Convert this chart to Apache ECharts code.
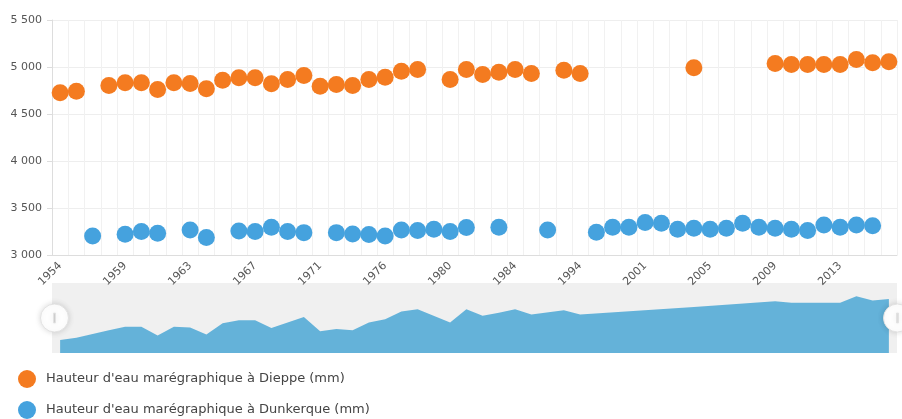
<!DOCTYPE html>
<html>
<head>
<meta charset="utf-8">
<script src="https://cdn.jsdelivr.net/npm/echarts@6/dist/echarts.min.js"></script>
<style>
html,body{margin:0;padding:0;background:#fff;}
#chart{width:902px;height:419px;}
</style>
</head>
<body>
<div id="chart"></div>
<script>
var years = ['1954','1955','1956','1957','1959','1960','1961','1962','1963','1964','1965','1966','1967','1968','1969','1970','1971','1972','1973','1974','1976','1977','1978','1979','1980','1981','1982','1983','1984','1985','1990','1993','1994','1998','1999','2000','2001','2002','2003','2004','2005','2006','2007','2008','2009','2010','2011','2012','2013','2014','2015','2016'];
var dieppe = [4725,4742,null,4803,4832,4832,4760,4832,4825,4768,4860,4885,4885,4821,4867,4910,4796,4814,4803,4867,4892,4956,4974,null,4867,4974,4920,4945,4974,4931,null,4966,4931,null,null,null,null,null,null,4992,null,null,null,null,5038,5027,5027,5027,5027,5080,5045,5056];
var dunkerque = [null,null,3203,null,3221,3249,3231,null,3267,3185,null,3256,3249,3295,3249,3238,null,3238,3224,3217,3203,3267,3260,3274,3249,3292,null,3295,null,null,3267,null,null,3242,3295,3295,3345,3338,3274,3285,3274,3285,3338,3295,3285,3274,3260,3320,3295,3320,3310,null];
var seriesNames = ["Hauteur d'eau marégraphique à Dieppe (mm)", "Hauteur d'eau marégraphique à Dunkerque (mm)"];
var yMin = 3000, yMax = 5500, yStep = 500;

var FONT = 'DejaVu Sans';
var chart = echarts.init(document.getElementById('chart'), null, {renderer: 'canvas'});
function fmt(v){ return String(v).replace(/\B(?=(\d{3})+(?!\d))/g, ' '); }

chart.setOption({
  animation: false,
  textStyle: {fontFamily: FONT},
  grid: [
    {left: 52, right: 5, top: 20, bottom: 164, containLabel: false},
    {left: 52, right: 5, top: 283, height: 70, show: true, backgroundColor: '#f0f0f0', borderWidth: 0}
  ],
  legend: {
    data: seriesNames,
    orient: 'vertical',
    left: 18, top: 370, padding: 0,
    itemWidth: 18, itemHeight: 18, itemGap: 13,
    icon: 'circle',
    textStyle: {fontFamily: FONT, fontSize: 13, color: '#444', padding: [0, 0, 0, 5]}
  },
  xAxis: [
    {
      type: 'category', data: years, boundaryGap: true, gridIndex: 0,
      axisLine: {lineStyle: {color: '#ddd'}},
      axisTick: {show: false},
      axisLabel: {interval: 3, rotate: 45, color: '#555', fontSize: 11, fontFamily: FONT, margin: 9},
      splitLine: {show: true, interval: 0, lineStyle: {color: '#f1f1f1'}}
    },
    {type: 'category', data: years, boundaryGap: true, gridIndex: 1, show: false}
  ],
  yAxis: [
    {
      type: 'value', min: yMin, max: yMax, interval: yStep, gridIndex: 0,
      axisLine: {show: true, lineStyle: {color: '#ddd'}},
      axisTick: {show: true, length: 5, lineStyle: {color: '#ddd'}},
      axisLabel: {color: '#555', fontSize: 11, fontFamily: FONT, margin: 10, formatter: fmt},
      splitLine: {lineStyle: {color: '#eee'}}
    },
    {
      type: 'value', gridIndex: 1, show: false,
      min: function(v){ return v.min - (v.max - v.min) * 0.3; },
      max: function(v){ return v.max + (v.max - v.min) * 0.3; }
    }
  ],
  dataZoom: [{
    type: 'slider', xAxisIndex: 0,
    left: 52, right: 5, top: 283, height: 70,
    showDataShadow: false, showDetail: false, brushSelect: false,
    moveHandleSize: 0,
    backgroundColor: 'rgba(0,0,0,0)', borderColor: 'rgba(0,0,0,0)',
    fillerColor: 'rgba(0,0,0,0)',
    dataBackground: {lineStyle: {opacity: 0}, areaStyle: {opacity: 0}},
    selectedDataBackground: {lineStyle: {opacity: 0}, areaStyle: {opacity: 0}},
    handleIcon: 'path://M10 0 A10 10 0 1 1 10 20 A10 10 0 1 1 10 0 Z M9.3 6.5 L9.3 13.5 L10.7 13.5 L10.7 6.5 Z',
    handleSize: '40%',
    handleStyle: {color: '#fff', borderColor: '#e2e2e2', borderWidth: 1, shadowBlur: 6, shadowColor: 'rgba(0,0,0,0.15)'},
    emphasis: {handleStyle: {color: '#fff', borderColor: '#e2e2e2'}}
  }],
  series: [
    {
      name: seriesNames[0], type: 'scatter', xAxisIndex: 0, yAxisIndex: 0,
      data: dieppe, symbolSize: 17,
      itemStyle: {color: '#f47b20', opacity: 1}
    },
    {
      name: seriesNames[1], type: 'scatter', xAxisIndex: 0, yAxisIndex: 0,
      data: dunkerque, symbolSize: 17,
      itemStyle: {color: '#45a2de', opacity: 1}
    },
    {
      name: 'shadow', type: 'line', xAxisIndex: 1, yAxisIndex: 1,
      data: dieppe, connectNulls: true, showSymbol: false, silent: true,
      lineStyle: {width: 0},
      areaStyle: {color: '#64b2d9', opacity: 1, origin: 'start'},
      z: 1
    }
  ]
});
</script>
</body>
</html>
